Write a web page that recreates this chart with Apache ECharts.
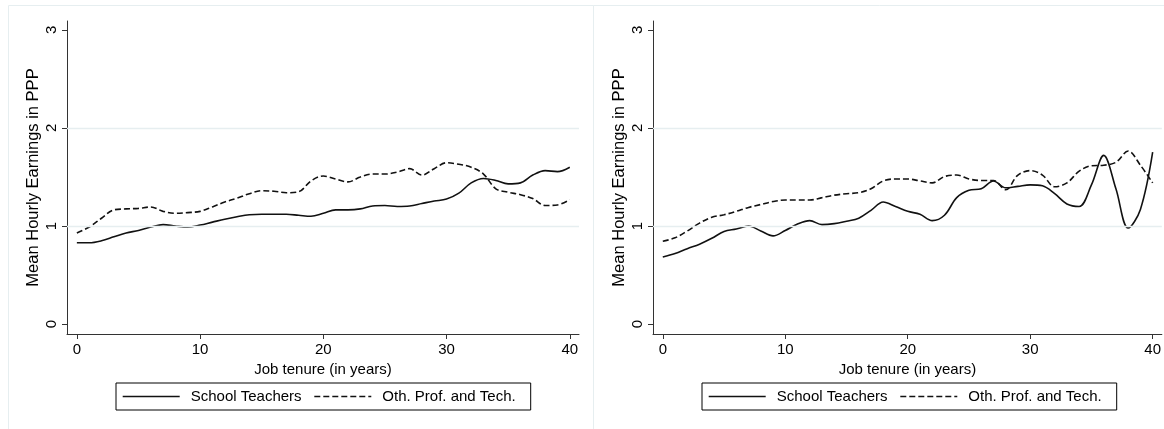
<!DOCTYPE html>
<html>
<head>
<meta charset="utf-8">
<script src="https://cdn.jsdelivr.net/npm/echarts@6/dist/echarts.min.js"></script>
<style>
html,body{margin:0;padding:0;background:#fff;}
#chart{width:1164px;height:429px;}
</style>
</head>
<body>
<div id="chart"></div>
<script>
const years = [0,1,2,3,4,5,6,7,8,9,10,11,12,13,14,15,16,17,18,19,20,21,22,23,24,25,26,27,28,29,30,31,32,33,34,35,36,37,38,39,40];
const xTicks = [0, 10, 20, 30, 40];
const yTicks = [0, 1, 2, 3];
const gridValues = [1, 2];
const seriesNames = ['School Teachers', 'Oth. Prof. and Tech.'];
const xTitle = 'Job tenure (in years)';
const yTitle = 'Mean Hourly Earnings in PPP';

// Left panel
const leftTeachers = [0.83,0.83,0.85,0.89,0.93,0.955,0.99,1.015,1.0,0.99,1.01,1.04,1.07,1.095,1.115,1.12,1.12,1.12,1.11,1.10,1.13,1.165,1.165,1.175,1.205,1.21,1.20,1.205,1.23,1.255,1.275,1.335,1.44,1.485,1.465,1.43,1.44,1.52,1.565,1.555,1.60];
const leftOther = [0.93,0.99,1.08,1.165,1.175,1.18,1.195,1.15,1.13,1.137,1.15,1.195,1.245,1.285,1.33,1.36,1.355,1.34,1.35,1.46,1.51,1.48,1.45,1.50,1.53,1.53,1.55,1.585,1.52,1.585,1.645,1.63,1.60,1.53,1.38,1.345,1.32,1.28,1.21,1.215,1.27];
// Right panel
const rightTeachers = [0.685,0.72,0.77,0.815,0.875,0.945,0.97,1.0,0.95,0.90,0.955,1.02,1.055,1.015,1.025,1.05,1.08,1.16,1.245,1.2,1.15,1.12,1.055,1.11,1.29,1.365,1.38,1.46,1.39,1.405,1.42,1.41,1.33,1.225,1.2,1.42,1.72,1.38,0.98,1.17,1.753];
const rightOther = [0.845,0.88,0.95,1.03,1.09,1.115,1.15,1.19,1.22,1.25,1.265,1.265,1.265,1.29,1.315,1.33,1.34,1.38,1.46,1.48,1.48,1.46,1.44,1.505,1.52,1.48,1.465,1.465,1.37,1.52,1.565,1.52,1.40,1.44,1.56,1.615,1.62,1.65,1.765,1.62,1.44];

const FONT = '"Liberation Sans", Arial, sans-serif';
const INK = '#000';
const AXIS = '#333';
const FAINT = '#e6eef0';

function pairs(vals){ return years.map((x, i) => [x, vals[i]]); }

function xAxisFor(gi){
  return {
    type: 'value', gridIndex: gi, min: -0.8, max: 40.75,
    name: xTitle, nameLocation: 'middle', nameGap: 24,
    nameTextStyle: {color: INK, fontSize: 15, fontFamily: FONT},
    axisLine: {show: true, onZero: false, lineStyle: {color: AXIS, width: 1}},
    axisTick: {show: true, length: 5, customValues: xTicks, lineStyle: {color: AXIS}},
    axisLabel: {show: true, customValues: xTicks, color: INK, fontSize: 15, fontFamily: FONT, margin: 8},
    splitLine: {show: false}
  };
}
function yAxisFor(gi){
  return {
    type: 'value', gridIndex: gi, min: -0.1, max: 3.09,
    name: yTitle, nameLocation: 'middle', nameGap: 25, nameRotate: 90,
    nameTextStyle: {color: INK, fontSize: 16.5, fontFamily: FONT},
    axisLine: {show: true, onZero: false, lineStyle: {color: AXIS, width: 1}},
    axisTick: {show: true, length: 5, customValues: yTicks, lineStyle: {color: AXIS}},
    axisLabel: {show: true, customValues: yTicks, rotate: 90, color: INK, fontSize: 15, fontFamily: FONT, margin: 8},
    splitLine: {show: false}
  };
}
function lineSeries(name, vals, gi, dashed, withGrid){
  const s = {
    name: name, type: 'line', xAxisIndex: gi, yAxisIndex: gi,
    data: pairs(vals), symbol: 'none', showSymbol: false, smooth: 0.35,
    lineStyle: {color: '#111', width: 1.6, type: dashed ? [6, 3] : 'solid'},
    itemStyle: {color: '#111'},
    z: 3, animation: false
  };
  if (withGrid) {
    s.markLine = {
      silent: true, symbol: 'none', animation: false,
      label: {show: false},
      lineStyle: {color: FAINT, width: 1.3, type: 'solid'},
      data: gridValues.map(v => ({yAxis: v}))
    };
  }
  return s;
}
function legendFor(left){
  return {
    left: left, top: 383,
    data: seriesNames,
    orient: 'horizontal',
    itemWidth: 57, itemHeight: 15, itemGap: 12,
    padding: [6, 15, 6, 6],
    borderColor: '#000', borderWidth: 1, borderRadius: 0,
    backgroundColor: '#fff',
    itemStyle: {opacity: 0},
    lineStyle: {width: 1.4},
    textStyle: {color: INK, fontSize: 15, fontFamily: FONT, padding: [0, 0, 0, 6]},
    selectedMode: false
  };
}

const chart = echarts.init(document.getElementById('chart'), null, {renderer: 'canvas'});
chart.setOption({
  animation: false,
  backgroundColor: '#fff',
  textStyle: {fontFamily: FONT},
  graphic: [
    {type: 'rect', shape: {x: 8.5, y: 5.5, width: 585, height: 440}, style: {fill: 'none', stroke: FAINT, lineWidth: 1}, silent: true, z: -10},
    {type: 'rect', shape: {x: 593.5, y: 5.5, width: 600, height: 440}, style: {fill: 'none', stroke: FAINT, lineWidth: 1}, silent: true, z: -10}
  ],
  grid: [
    {left: 67, top: 21, width: 512, height: 313, containLabel: false},
    {left: 653, top: 21, width: 512, height: 313, containLabel: false}
  ],
  xAxis: [xAxisFor(0), xAxisFor(1)],
  yAxis: [yAxisFor(0), yAxisFor(1)],
  legend: [legendFor(116), legendFor(702)],
  series: [
    lineSeries(seriesNames[0], leftTeachers, 0, false, true),
    lineSeries(seriesNames[1], leftOther, 0, true, false),
    lineSeries(seriesNames[0], rightTeachers, 1, false, true),
    lineSeries(seriesNames[1], rightOther, 1, true, false)
  ]
});
</script>
</body>
</html>
